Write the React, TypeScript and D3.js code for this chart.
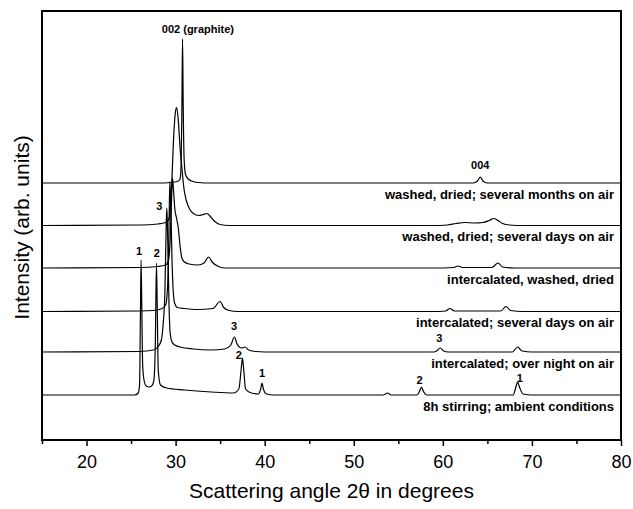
import React, { useEffect, useRef } from 'react';
import * as d3 from 'd3';

// XRD patterns, [2theta, intensity above own baseline] (arb. units)
const monthsAir: [number, number][] = [
  [15, 0], [28, 0], [29.5, 0.5], [30.2, 1.5], [30.5, 4], [30.62, 20], [30.7, 70], [30.78, 144],
  [30.85, 80], [30.95, 25], [31.1, 9], [31.4, 4], [31.8, 2], [32.5, 0.5], [34, 0],
  [63.4, 0], [63.9, 2], [64.2, 6], [64.5, 2], [65, 0], [80, 0],
];
const daysAir: [number, number][] = [
  [15, 0], [26, 0.5], [28, 1.5], [28.9, 3], [29.3, 8], [29.55, 40], [29.8, 92], [30.0, 115],
  [30.12, 118], [30.3, 105], [30.5, 78], [30.7, 58], [30.95, 36], [31.2, 25], [31.6, 16],
  [32.0, 12], [32.6, 10], [33.1, 11], [33.5, 12], [33.9, 9], [34.4, 4], [35, 1], [36, 0],
  [59, 0], [60.5, 0.5], [61.5, 2], [62.5, 3], [63.5, 2.5], [64.5, 3], [65.2, 5], [65.7, 7],
  [66.2, 5], [66.7, 2], [67.5, 0.5], [69, 0], [80, 0],
];
const washedDried: [number, number][] = [
  [15, 0], [26, 0.5], [28, 1.5], [28.9, 3], [29.2, 8], [29.4, 30], [29.55, 70], [29.65, 90],
  [29.75, 80], [29.9, 60], [30.1, 50], [30.3, 40], [30.5, 22], [30.7, 10], [31, 6], [31.5, 4],
  [32.5, 3], [33.2, 5], [33.7, 11], [34.1, 6], [34.7, 2], [35.5, 0], [59, 0], [61.2, 0.5],
  [61.7, 2], [62.2, 0.5], [65.5, 0.5], [66.2, 5], [66.7, 1], [68, 0], [80, 0],
];
const severalDays: [number, number][] = [
  [15, 0], [26, 0.5], [27.5, 1], [28.5, 3], [28.9, 7], [29.1, 25], [29.25, 80], [29.35, 130],
  [29.45, 110], [29.6, 50], [29.75, 18], [29.9, 8], [30.2, 4], [31, 3], [32.5, 2], [34.2, 3],
  [35, 10], [35.4, 4], [36, 1], [37, 0], [59, 0], [60.3, 0.5], [60.8, 3], [61.3, 0.5],
  [66.5, 0.5], [67.1, 5], [67.6, 1], [69, 0], [80, 0],
];
const overNight: [number, number][] = [
  [15, 0], [26, 0.5], [27.5, 2], [28.0, 5], [28.4, 12], [28.6, 28], [28.8, 60], [28.95, 130],
  [29.02, 144], [29.12, 110], [29.25, 50], [29.4, 18], [29.6, 10], [29.9, 7], [30.5, 5],
  [32, 3], [34, 2], [35.5, 3], [36.2, 7], [36.6, 15], [36.9, 8], [37.4, 4], [37.8, 5],
  [38.2, 2], [39, 0.5], [41, 0], [59, 0], [59.3, 1], [59.7, 4], [60.1, 1], [60.6, 0],
  [67.8, 0], [68.4, 5], [68.9, 1], [70, 0], [80, 0],
];
const stirring: [number, number][] = [
  [15, 0], [25.4, 0], [25.8, 2], [25.95, 10], [26.05, 80], [26.12, 135], [26.2, 90], [26.3, 30],
  [26.45, 15], [26.7, 9], [27.0, 8], [27.3, 9], [27.55, 14], [27.72, 50], [27.85, 132],
  [27.95, 80], [28.05, 25], [28.3, 10], [29, 7], [31, 5], [34, 3], [36.5, 2], [37.1, 6],
  [37.35, 25], [37.5, 37], [37.65, 25], [37.85, 6], [38.5, 2], [39.3, 1], [39.55, 6],
  [39.7, 12], [39.85, 6], [40.2, 1], [41, 0], [53.3, 0], [53.8, 2], [54.2, 0], [57.1, 0],
  [57.4, 4], [57.6, 8], [57.8, 4], [58.2, 0], [67.9, 0], [68.2, 8], [68.4, 13], [68.6, 8],
  [69, 1], [70, 0], [80, 0],
];

const series = [monthsAir, daysAir, washedDried, severalDays, overNight, stirring];
const seriesNames = [
  'washed, dried; several months on air',
  'washed, dried; several days on air',
  'intercalated, washed, dried',
  'intercalated; several days on air',
  'intercalated; over night on air',
  '8h stirring; ambient conditions',
];
const offsets = [257, 214.5, 172, 128.5, 88, 45];

// peak annotations: text, trace index, 2theta, height above that trace's baseline
const peakLabels: [string, number, number, number][] = [
  ['002 (graphite)', 0, 32.5, 154],
  ['004', 0, 64.2, 18],
  ['3', 4, 28.17, 146],
  ['1', 5, 25.9, 144],
  ['2', 5, 27.88, 142],
  ['3', 4, 36.55, 26],
  ['2', 5, 37.1, 40],
  ['1', 5, 39.7, 22],
  ['3', 4, 59.6, 14],
  ['2', 5, 57.4, 15],
  ['1', 5, 68.65, 17],
];

const W = 633;
const H = 509;
const m = { left: 42, right: 12, top: 11, bottom: 69 };
const font = 'Liberation Sans, Arial, sans-serif';

export default function App() {
  const axisRef = useRef<SVGGElement>(null);

  const x = d3.scaleLinear().domain([15, 80]).range([m.left, W - m.right]);
  const y = d3.scaleLinear().domain([0, H - m.top - m.bottom]).range([H - m.bottom, m.top]);

  useEffect(() => {
    if (!axisRef.current) return;
    const g = d3.select(axisRef.current);
    g.selectAll('*').remove();
    const minor = g.append('g').call(
      d3.axisBottom(x).tickValues(d3.range(15, 80, 10)).tickSize(4).tickFormat(() => '')
    );
    minor.select('.domain').remove();
    const major = g.append('g').call(
      d3.axisBottom(x).tickValues(d3.range(20, 81, 10)).tickSize(6).tickPadding(9)
    );
    major.select('.domain').remove();
    g.selectAll('line').attr('stroke', '#000').attr('stroke-width', 1.5);
    major.selectAll('text')
      .attr('font-family', font)
      .attr('font-size', 18)
      .attr('fill', '#000');
  }, []);

  const line = (off: number) =>
    d3.line<[number, number]>()
      .x(d => x(d[0]))
      .y(d => y(d[1] + off))
      .curve(d3.curveMonotoneX);

  return (
    <svg width={W} height={H} style={{ position: 'absolute', left: 0, top: 0, background: '#fff' }}>
      <g>
        {series.map((s, i) => (
          <path key={i} d={line(offsets[i])(s) || ''} fill="none" stroke="#000" strokeWidth={1.2} />
        ))}
      </g>
      <g fontFamily={font} fontWeight="bold" fontSize={13} textAnchor="end" fill="#000">
        {seriesNames.map((n, i) => (
          <text key={n} x={W - m.right - 7} y={y(offsets[i]) + 11} dy="0.35em">{n}</text>
        ))}
      </g>
      <g fontFamily={font} fontWeight="bold" fontSize={11} textAnchor="middle" fill="#000">
        {peakLabels.map((p, i) => (
          <text key={i} x={x(p[2])} y={y(offsets[p[1]] + p[3])} dy="0.35em">{p[0]}</text>
        ))}
      </g>
      <rect x={m.left} y={m.top} width={W - m.left - m.right} height={H - m.top - m.bottom}
        fill="none" stroke="#000" strokeWidth={2} />
      <g ref={axisRef} transform={`translate(0,${H - m.bottom})`} />
      <text x={(m.left + W - m.right) / 2} y={498} textAnchor="middle" fontFamily={font} fontSize={21}>
        Scattering angle 2θ in degrees
      </text>
      <text transform={`translate(29,${(m.top + H - m.bottom) / 2 + 2}) rotate(-90)`} textAnchor="middle"
        fontFamily={font} fontSize={21}>
        Intensity (arb. units)
      </text>
    </svg>
  );
}
